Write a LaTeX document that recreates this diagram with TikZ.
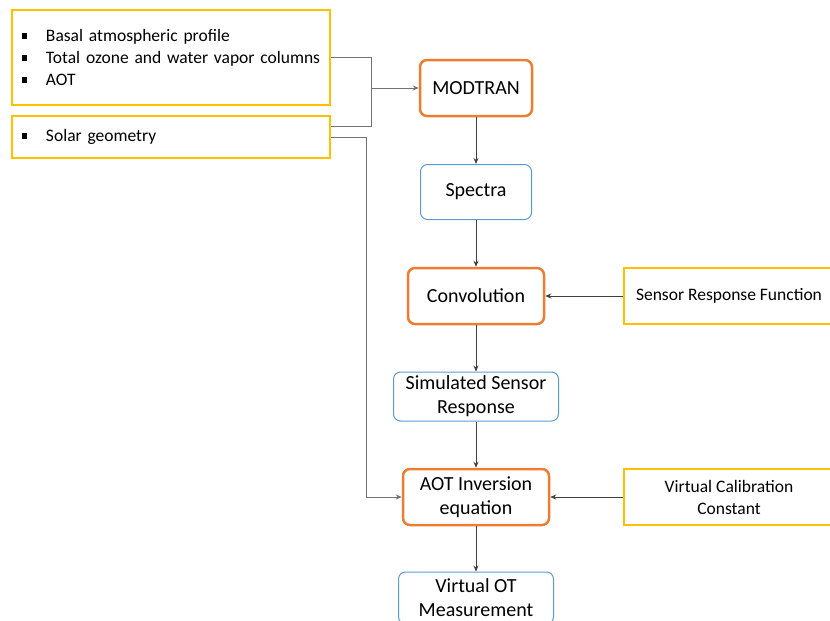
\documentclass[tikz,border=0pt]{standalone}
\usepackage{fontspec}
\setmainfont{Carlito}
\usetikzlibrary{arrows.meta}

\definecolor{inputyellow}{HTML}{FFC000}
\definecolor{procorange}{HTML}{ED7D31}
\definecolor{datablue}{HTML}{5B9BD5}
\newcommand{\sqitem}[1]{\mbox{\raisebox{3pt}{\rule{5.5pt}{5.5pt}}\hspace{18.5pt}#1}}

\begin{document}
\begin{tikzpicture}[x=1pt, y=-1pt, >={Stealth[length=6pt,width=5pt]},
    inbox/.style={draw=inputyellow, line width=2.5pt, inner sep=0pt, font=\fontsize{17.5}{22}\selectfont},
    procbox/.style={draw=procorange, line width=2.5pt, rounded corners=7pt, inner sep=0pt, align=center, font=\fontsize{20}{24}\selectfont},
    databox/.style={draw=datablue, line width=1pt, rounded corners=7pt, inner sep=0pt, align=center, font=\fontsize{20}{24}\selectfont},
    link/.style={draw=black!75, line width=0.7pt},
    feed/.style={draw=black!55, line width=0.8pt}]
    \clip (0,0) rectangle (830,621);

    % inputs on the left
    \node[inbox, minimum width=318pt, minimum height=95pt, text width=298pt, inner xsep=10pt, align=left] (atmos) at (171,57.5)
        {\sqitem{Basal atmospheric profile}\\ \sqitem{Total ozone and water vapor columns}\\ \sqitem{AOT}};
    \node[inbox, minimum width=318pt, minimum height=42pt, text width=298pt, inner xsep=10pt, align=left] (solar) at (171,137)
        {\sqitem{Solar geometry}};

    % main chain
    \node[procbox, minimum width=112pt, minimum height=56pt] (modtran) at (476,88) {MODTRAN};
    \node[databox, minimum width=111pt, minimum height=55pt] (spectra) at (476,192) {Spectra};
    \node[procbox, minimum width=136pt, minimum height=56pt] (conv) at (476,296) {Convolution};
    \node[databox, minimum width=165pt, minimum height=49pt] (simresp) at (476,396.5) {Simulated Sensor\\ Response};
    \node[procbox, minimum width=146pt, minimum height=56pt] (inversion) at (476,497) {AOT Inversion\\ equation};
    \node[databox, minimum width=155pt, minimum height=52pt] (virtot) at (476,598) {Virtual OT\\ Measurement};

    % inputs on the right
    \node[inbox, minimum width=210pt, minimum height=56pt, align=center, font=\fontsize{17.5}{22}\selectfont] (srf) at (729,296) {Sensor Response Function};
    \node[inbox, minimum width=210pt, minimum height=56pt, align=center, font=\fontsize{17.5}{22}\selectfont] (vcc) at (729,497) {Virtual Calibration\\ Constant};

    \coordinate (join) at (371,88);
    \draw[feed] (atmos.east |- 0,57) -| (join);
    \draw[feed] (solar.east |- 0,126) -| (join);
    \draw[feed, ->] (join) -- (modtran.west);
    \draw[feed, ->] (solar.east |- 0,137) -| (366,497) -- (inversion.west);

    \draw[link, ->] (modtran) -- (spectra);
    \draw[link, ->] (spectra) -- (conv);
    \draw[link, ->] (srf) -- (conv);
    \draw[link, ->] (conv) -- (simresp);
    \draw[link, ->] (simresp) -- (inversion);
    \draw[link, ->] (vcc) -- (inversion);
    \draw[link, ->] (inversion) -- (virtot);
\end{tikzpicture}
\end{document}
